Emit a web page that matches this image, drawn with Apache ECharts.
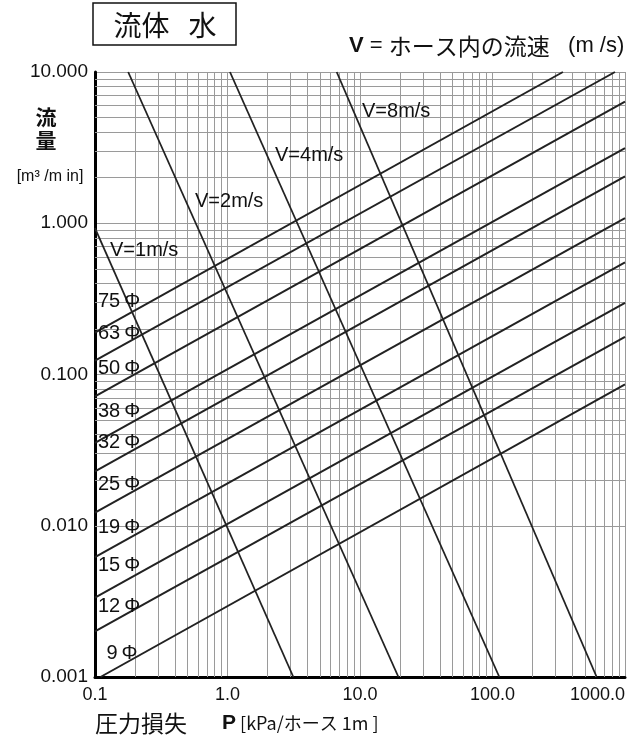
<!DOCTYPE html>
<html><head><meta charset="utf-8">
<script src="https://cdn.jsdelivr.net/npm/echarts@6/dist/echarts.min.js"></script>
<style>html,body{margin:0;padding:0;background:#fff}#c{width:641px;height:742px}</style>
</head><body><div id="c"></div>
<script>
// ---- data ----
const xTickLabels = ['0.1', '1.0', '10.0', '100.0', '1000.0'];
const yTickLabels = ['0.001', '0.010', '0.100', '1.000', '10.000'];
const xMinorGrid = [0.2, 0.3, 0.4, 0.5, 0.6, 0.7, 0.8, 0.9, 2, 3, 4, 5, 6, 7, 8, 9,
  20, 30, 40, 50, 60, 70, 80, 90, 200, 300, 400, 500, 600, 700, 800, 900];
const yMinorGrid = [0.002, 0.003, 0.004, 0.005, 0.006, 0.007, 0.008, 0.009,
  0.02, 0.03, 0.04, 0.05, 0.06, 0.07, 0.08, 0.09,
  0.2, 0.3, 0.4, 0.5, 0.6, 0.7, 0.8, 0.9, 2, 3, 4, 5, 6, 7, 8, 9];
const diameterNames = ['75Φ', '63Φ', '50Φ', '38Φ', '32Φ', '25Φ', '19Φ', '15Φ', '12Φ', '9Φ'];
// [P (kPa/m), Q (m3/min)] end points of each hose-diameter line
const d75 = [[0.1, 0.189], [340, 10]];
const d63 = [[0.1, 0.1237], [840, 10]];
const d50 = [[0.1, 0.0716], [1000, 6.37]];
const d38 = [[0.1, 0.0353], [1000, 3.14]];
const d32 = [[0.1, 0.0229], [1000, 2.04]];
const d25 = [[0.1, 0.01219], [1000, 1.08]];
const d19 = [[0.1, 0.0062], [1000, 0.551]];
const d15 = [[0.1, 0.00335], [1000, 0.297]];
const d12 = [[0.1, 0.0020], [1000, 0.177]];
const d9 = [[0.11, 0.001], [1000, 0.0859]];
const diameterLines = [d75, d63, d50, d38, d32, d25, d19, d15, d12, d9];
const velocityNames = ['V=1m/s', 'V=2m/s', 'V=4m/s', 'V=8m/s'];
const v1 = [[0.1, 0.93], [3.14, 0.001]];
const v2 = [[0.178, 10], [19.5, 0.001]];
const v4 = [[1.044, 10], [112.6, 0.001]];
const v8 = [[6.67, 10], [611, 0.001]];
const velocityLines = [v1, v2, v4, v8];

// ---- chart ----
const FONT = "'Liberation Sans', Arial, 'Noto Sans CJK JP', sans-serif";
const JP = "'Noto Sans CJK JP', 'Liberation Sans', sans-serif";
const chart = echarts.init(document.getElementById('c'), null, { renderer: 'canvas' });

const series = [];
series.push({
  type: 'line', data: [], z: 1, silent: true,
  markLine: {
    silent: true, z: 1, symbol: ['none', 'none'], animation: false,
    label: { show: false },
    lineStyle: { color: '#9a9a9a', width: 1, type: 'solid' },
    emphasis: { disabled: true },
    data: xMinorGrid.map(v => ({ xAxis: v })).concat(yMinorGrid.map(v => ({ yAxis: v })))
  }
});
const labelShift = [[-2, -31], [-2, -27], [-2, -28], [-2, -31], [-2, -29], [-2, -28], [-2, -30], [-2, -32], [-2, -25], [1, -24]];
diameterLines.forEach((pts, i) => {
  series.push({
    type: 'line', name: diameterNames[i], z: 3, silent: true,
    symbol: 'circle', symbolSize: 0, showSymbol: true, showAllSymbol: true, clip: false,
    lineStyle: { color: '#222', width: 2 },
    label: { show: false },
    labelLayout: { hideOverlap: false, dx: labelShift[i][0], dy: labelShift[i][1] },
    data: pts.map((p, k) => k === 0 ? {
      value: p,
      label: {
        show: true, formatter: diameterNames[i].replace('Φ', '\u2009Φ'), position: 'right',
        fontFamily: FONT, fontSize: 20, color: '#111'
      }
    } : { value: p })
  });
});
velocityLines.forEach((pts, i) => {
  series.push({
    type: 'line', name: velocityNames[i], z: 3, silent: true,
    symbol: 'none', showSymbol: false, clip: true,
    lineStyle: { color: '#222', width: 1.8 },
    data: pts
  });
});

const vLabelPos = [[110, 250], [195, 201], [275, 155], [362, 111]];
const graphic = [
  { type: 'rect', shape: { x: 93, y: 3, width: 143, height: 42 }, style: { fill: '#fff', stroke: '#111', lineWidth: 1.5 } },
  { type: 'text', x: 165, y: 25, style: { text: '流体   水', font: '28px ' + JP, fill: '#111', align: 'center', verticalAlign: 'middle' } },
  { type: 'text', x: 349, y: 46, style: {
      text: '{b|V}{n| = }{j|ホース内の流速}{n|   (m /s)}', align: 'left', verticalAlign: 'middle',
      rich: { b: { font: 'bold 22px ' + FONT, fill: '#111' }, n: { font: '22px ' + FONT, fill: '#111' }, j: { font: '23px ' + JP, fill: '#111' } } } },
  { type: 'text', x: 46, y: 117, style: { text: '流', font: 'bold 21px ' + JP, fill: '#111', align: 'center', verticalAlign: 'middle' } },
  { type: 'text', x: 46, y: 140, style: { text: '量', font: 'bold 21px ' + JP, fill: '#111', align: 'center', verticalAlign: 'middle' } },
  { type: 'text', x: 50, y: 177, style: { text: '[m³ /m in]', font: '16px ' + FONT, fill: '#111', align: 'center', verticalAlign: 'middle' } },
  { type: 'text', x: 95, y: 723, style: {
      text: '{a|圧力損失}{s|       }{b|P}{c| [kPa/ホース 1m ]}', align: 'left', verticalAlign: 'middle',
      rich: { a: { font: '23px ' + JP, fill: '#111' }, s: { font: '18px ' + FONT }, b: { font: 'bold 21px ' + FONT, fill: '#111' }, c: { font: '18px ' + JP, fill: '#111' } } } }
];
velocityNames.forEach((n, i) => {
  graphic.push({ type: 'text', x: vLabelPos[i][0], y: vLabelPos[i][1], z: 10,
    style: { text: n, font: '20px ' + FONT, fill: '#111', align: 'left', verticalAlign: 'middle' } });
});

chart.setOption({
  animation: false,
  backgroundColor: '#fff',
  grid: { left: 95, right: 16, top: 72, bottom: 65, containLabel: false },
  xAxis: {
    type: 'log', logBase: 10, min: 0.1, max: 1000, splitNumber: 4,
    axisLine: { show: true, onZero: false, lineStyle: { color: '#000', width: 3 } },
    axisTick: { show: false },
    splitLine: { show: true, lineStyle: { color: '#9a9a9a', width: 1 } },
    axisLabel: {
      fontFamily: FONT, fontSize: 18, color: '#111', margin: 9, alignMaxLabel: 'right',
      formatter: v => xTickLabels[Math.round(Math.log10(v)) + 1]
    }
  },
  yAxis: {
    type: 'log', logBase: 10, min: 0.001, max: 10, splitNumber: 4,
    axisLine: { show: true, onZero: false, lineStyle: { color: '#000', width: 3 } },
    axisTick: { show: false },
    splitLine: { show: true, lineStyle: { color: '#9a9a9a', width: 1 } },
    axisLabel: {
      fontFamily: FONT, fontSize: 19, color: '#111', margin: 7,
      formatter: v => yTickLabels[Math.round(Math.log10(v)) + 3]
    }
  },
  graphic: graphic,
  series: series
});
</script>
</body></html>
